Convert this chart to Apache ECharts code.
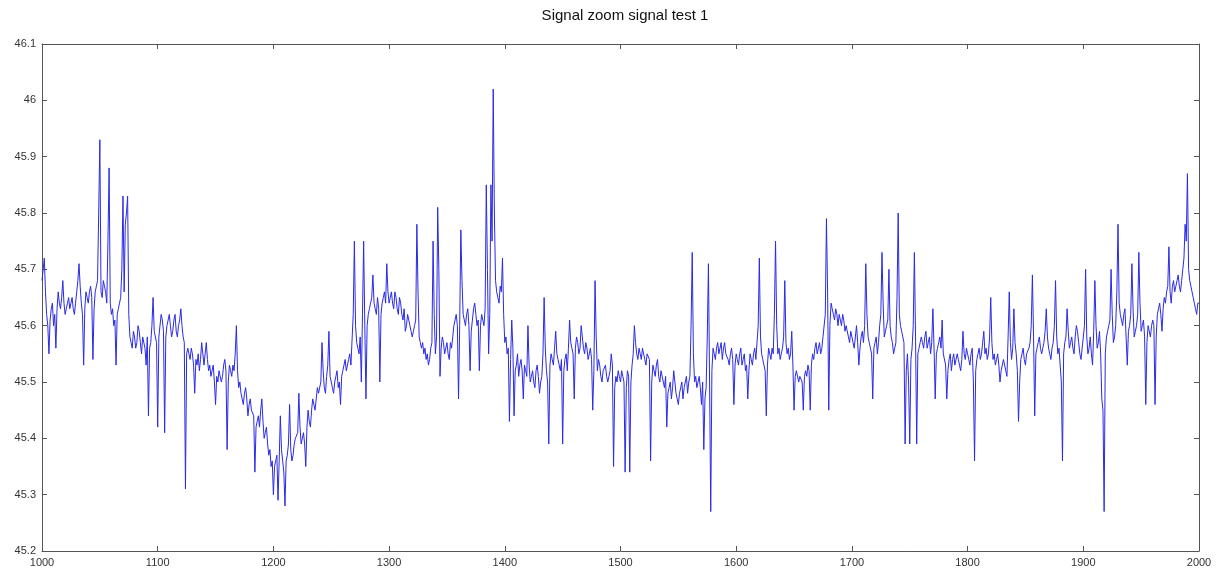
<!DOCTYPE html>
<html>
<head>
<meta charset="utf-8">
<title>Signal zoom signal test 1</title>
<script src="https://cdn.jsdelivr.net/npm/echarts@6/dist/echarts.min.js"></script>
<style>
  html, body { margin: 0; padding: 0; background: #ffffff; }
  #chart { width: 1223px; height: 574px; }
</style>
</head>
<body>
<div id="chart"></div>
<script>
// Chart title and axis setup
const titleText = 'Signal zoom signal test 1';
const xTicks = [1000, 1100, 1200, 1300, 1400, 1500, 1600, 1700, 1800, 1900, 2000];
const yTicks = [45.2, 45.3, 45.4, 45.5, 45.6, 45.7, 45.8, 45.9, 46.0, 46.1];

// Sample numbering: first sample index and spacing between samples
const sampleStart = 1000;
const sampleStep = 1;

// Signal amplitude, one value per sample (1000 .. 2000), 20 samples per row
const signal = [
  45.68,45.70,45.72,45.66,45.62,45.60,45.55,45.61,45.63,45.64,45.60,45.62,45.56,45.63,45.66,45.64,45.63,45.65,45.68,45.64,
  45.62,45.63,45.64,45.65,45.63,45.64,45.65,45.63,45.62,45.64,45.66,45.68,45.71,45.67,45.64,45.62,45.53,45.63,45.66,45.65,
  45.64,45.66,45.67,45.65,45.54,45.63,45.66,45.67,45.68,45.80,45.93,45.66,45.65,45.68,45.67,45.66,45.64,45.75,45.88,45.64,
  45.62,45.63,45.60,45.61,45.53,45.62,45.63,45.64,45.65,45.70,45.83,45.66,45.78,45.80,45.83,45.62,45.58,45.57,45.56,45.59,
  45.58,45.56,45.57,45.60,45.59,45.57,45.55,45.58,45.58,45.56,45.53,45.58,45.44,45.56,45.57,45.60,45.65,45.59,45.58,45.57,
  45.42,45.58,45.60,45.62,45.61,45.59,45.41,45.58,45.60,45.61,45.62,45.60,45.58,45.59,45.61,45.62,45.59,45.58,45.60,45.61,
  45.63,45.60,45.58,45.57,45.31,45.55,45.56,45.55,45.54,45.56,45.55,45.53,45.48,45.54,45.53,45.55,45.52,45.54,45.57,45.55,
  45.53,45.55,45.57,45.54,45.52,45.53,45.51,45.52,45.53,45.50,45.46,45.51,45.50,45.52,45.52,45.50,45.51,45.53,45.54,45.52,
  45.38,45.50,45.53,45.52,45.51,45.53,45.52,45.55,45.60,45.52,45.49,45.50,45.48,45.47,45.46,45.48,45.49,45.47,45.44,45.46,
  45.47,45.45,45.45,45.44,45.34,45.42,45.43,45.44,45.42,45.45,45.47,45.43,45.40,45.41,45.42,45.39,45.37,45.38,45.35,45.36,
  45.30,45.35,45.36,45.37,45.29,45.36,45.44,45.38,45.36,45.34,45.28,45.36,45.37,45.39,45.46,45.38,45.36,45.37,45.39,45.40,
  45.40,45.41,45.48,45.42,45.39,45.40,45.41,45.39,45.35,45.42,45.45,45.43,45.42,45.45,45.47,45.46,45.45,45.47,45.49,45.48,
  45.48,45.50,45.57,45.52,45.49,45.48,45.51,45.53,45.59,45.51,45.50,45.49,45.48,45.50,45.51,45.52,45.49,45.50,45.46,45.51,
  45.52,45.53,45.54,45.52,45.52,45.54,45.55,45.53,45.53,45.62,45.75,45.60,45.57,45.56,45.55,45.58,45.50,45.62,45.75,45.60,
  45.47,45.60,45.62,45.63,45.64,45.65,45.69,45.64,45.63,45.62,45.65,45.63,45.50,45.62,45.64,45.65,45.66,45.64,45.71,45.66,
  45.64,45.65,45.66,45.64,45.63,45.66,45.65,45.63,45.62,45.65,45.64,45.62,45.61,45.63,45.59,45.60,45.62,45.61,45.60,45.59,
  45.58,45.59,45.60,45.61,45.78,45.66,45.58,45.57,45.56,45.57,45.55,45.56,45.54,45.55,45.53,45.54,45.56,45.57,45.75,45.62,
  45.55,45.58,45.81,45.70,45.51,45.56,45.58,45.57,45.55,45.56,45.57,45.55,45.54,45.57,45.56,45.58,45.60,45.61,45.62,45.60,
  45.47,45.60,45.77,45.68,45.62,45.61,45.60,45.62,45.63,45.60,45.52,45.59,45.61,45.63,45.64,45.62,45.60,45.61,45.52,45.60,
  45.62,45.61,45.60,45.63,45.85,45.70,45.55,45.62,45.85,45.75,46.02,45.80,45.68,45.66,45.65,45.64,45.67,45.66,45.72,45.62,
  45.57,45.58,45.55,45.56,45.43,45.54,45.61,45.56,45.44,45.52,45.53,45.55,45.51,45.53,45.54,45.52,45.47,45.53,45.52,45.51,
  45.60,45.53,45.50,45.51,45.52,45.50,45.49,45.52,45.53,45.51,45.48,45.50,45.51,45.55,45.65,45.56,45.52,45.50,45.39,45.53,
  45.55,45.54,45.53,45.56,45.59,45.55,45.54,45.53,45.52,45.54,45.39,45.52,45.54,45.55,45.52,45.56,45.61,45.57,45.56,45.55,
  45.47,45.56,45.58,45.57,45.55,45.56,45.60,45.58,45.56,45.55,45.57,45.56,45.54,45.55,45.56,45.54,45.45,45.52,45.68,45.58,
  45.52,45.54,45.53,45.51,45.50,45.52,45.52,45.53,45.51,45.50,45.50,45.52,45.55,45.53,45.35,45.49,45.51,45.50,45.52,45.51,
  45.50,45.52,45.51,45.50,45.34,45.49,45.52,45.51,45.34,45.50,45.53,45.55,45.60,45.57,45.55,45.54,45.56,45.55,45.54,45.56,
  45.55,45.54,45.53,45.55,45.55,45.54,45.36,45.50,45.53,45.52,45.51,45.53,45.54,45.51,45.50,45.52,45.52,45.50,45.49,45.51,
  45.42,45.48,45.49,45.50,45.47,45.49,45.52,45.50,45.48,45.47,45.46,45.48,45.49,45.50,45.47,45.49,45.50,45.51,45.48,45.50,
  45.51,45.60,45.73,45.55,45.50,45.51,45.49,45.50,45.51,45.49,45.46,45.50,45.38,45.47,45.49,45.58,45.71,45.50,45.27,45.52,
  45.56,45.55,45.54,45.56,45.57,45.55,45.55,45.57,45.54,45.56,45.57,45.55,45.55,45.54,45.53,45.55,45.56,45.54,45.46,45.53,
  45.55,45.54,45.53,45.55,45.56,45.53,45.54,45.55,45.52,45.53,45.47,45.52,45.55,45.54,45.53,45.55,45.56,45.54,45.54,45.60,
  45.72,45.58,45.55,45.54,45.53,45.52,45.44,45.53,45.56,45.55,45.54,45.56,45.55,45.62,45.75,45.60,45.55,45.56,45.54,45.55,
  45.56,45.58,45.68,45.57,45.55,45.56,45.54,45.55,45.59,45.53,45.45,45.51,45.52,45.52,45.50,45.51,45.51,45.50,45.45,45.51,
  45.52,45.51,45.53,45.52,45.45,45.53,45.55,45.54,45.56,45.57,45.55,45.56,45.57,45.55,45.56,45.58,45.58,45.62,45.79,45.66,
  45.45,45.60,45.64,45.63,45.62,45.61,45.63,45.62,45.60,45.62,45.61,45.60,45.62,45.61,45.59,45.60,45.60,45.58,45.57,45.59,
  45.58,45.57,45.56,45.58,45.60,45.57,45.53,45.56,45.58,45.59,45.57,45.60,45.71,45.62,45.58,45.57,45.56,45.55,45.47,45.56,
  45.57,45.58,45.55,45.57,45.60,45.62,45.73,45.64,45.58,45.59,45.60,45.61,45.70,45.60,45.58,45.57,45.55,45.56,45.57,45.65,
  45.80,45.62,45.60,45.59,45.58,45.57,45.39,45.52,45.55,45.50,45.39,45.54,45.56,45.60,45.73,45.58,45.39,45.55,45.56,45.57,
  45.58,45.57,45.56,45.58,45.59,45.56,45.57,45.58,45.55,45.57,45.63,45.56,45.47,45.55,45.56,45.57,45.58,45.56,45.61,45.55,
  45.55,45.53,45.47,45.52,45.54,45.55,45.52,45.54,45.55,45.53,45.53,45.55,45.54,45.53,45.52,45.54,45.59,45.55,45.54,45.56,
  45.55,45.54,45.53,45.55,45.56,45.50,45.36,45.52,45.54,45.55,45.56,45.54,45.55,45.57,45.59,45.55,45.56,45.54,45.55,45.58,
  45.65,45.57,45.54,45.55,45.53,45.54,45.55,45.53,45.50,45.52,45.52,45.54,45.53,45.52,45.51,45.58,45.66,45.57,45.54,45.56,
  45.63,45.57,45.55,45.52,45.43,45.50,45.54,45.55,45.56,45.54,45.53,45.55,45.55,45.56,45.57,45.60,45.69,45.58,45.44,45.55,
  45.56,45.57,45.58,45.56,45.55,45.56,45.57,45.59,45.63,45.58,45.56,45.55,45.54,45.56,45.57,45.60,45.68,45.58,45.55,45.56,
  45.56,45.50,45.36,45.55,45.57,45.58,45.63,45.59,45.56,45.57,45.58,45.56,45.55,45.58,45.60,45.59,45.57,45.55,45.54,45.56,
  45.56,45.60,45.70,45.58,45.55,45.56,45.58,45.55,45.53,45.59,45.68,45.60,45.56,45.57,45.59,45.55,45.47,45.45,45.27,45.55,
  45.58,45.59,45.60,45.61,45.70,45.62,45.57,45.58,45.60,45.66,45.78,45.64,45.62,45.61,45.60,45.62,45.63,45.58,45.53,45.59,
  45.60,45.62,45.71,45.63,45.58,45.59,45.60,45.62,45.73,45.64,45.59,45.60,45.61,45.58,45.46,45.57,45.60,45.59,45.58,45.60,
  45.61,45.60,45.46,45.58,45.62,45.63,45.64,45.62,45.59,45.63,45.65,45.64,45.66,45.67,45.74,45.66,45.64,45.67,45.68,45.66,
  45.67,45.68,45.69,45.67,45.66,45.68,45.70,45.72,45.78,45.75,45.87,45.70,45.68,45.67,45.66,45.65,45.64,45.63,45.62,45.64,
  45.64
];

const points = signal.map((v, i) => [sampleStart + i * sampleStep, v]);

const axisColor = '#555555';
const labelFont = { color: '#333333', fontSize: 11, fontFamily: 'Liberation Sans, Arial, sans-serif' };

function fmtX(v) {
  return String(Math.round(v));
}
function fmtY(v) {
  return String(parseFloat(Number(v).toFixed(1)));
}

const frameAxisX = (pos, showLabel) => ({
  type: 'value',
  position: pos,
  min: xTicks[0],
  max: xTicks[xTicks.length - 1],
  interval: 100,
  axisLine: { show: true, onZero: false, lineStyle: { color: axisColor, width: 1 } },
  axisTick: { show: true, inside: true, length: 5, lineStyle: { color: axisColor } },
  axisLabel: Object.assign({ show: showLabel, margin: 6, formatter: fmtX }, labelFont),
  splitLine: { show: false }
});

const frameAxisY = (pos, showLabel) => ({
  type: 'value',
  position: pos,
  min: yTicks[0],
  max: yTicks[yTicks.length - 1],
  interval: 0.1,
  axisLine: { show: true, onZero: false, lineStyle: { color: axisColor, width: 1 } },
  axisTick: { show: true, inside: true, length: 5, lineStyle: { color: axisColor } },
  axisLabel: Object.assign({ show: showLabel, margin: 6, formatter: fmtY }, labelFont),
  splitLine: { show: false }
});

const chart = echarts.init(document.getElementById('chart'), null, { renderer: 'canvas' });
chart.setOption({
  animation: false,
  backgroundColor: '#ffffff',
  title: {
    text: titleText,
    left: 620,
    textAlign: 'center',
    top: 3,
    textStyle: { color: '#111111', fontSize: 15, fontWeight: 'normal', fontFamily: 'Liberation Sans, Arial, sans-serif' }
  },
  grid: { left: 42, right: 24, top: 44, bottom: 23, containLabel: false },
  xAxis: [frameAxisX('bottom', true), frameAxisX('top', false)],
  yAxis: [frameAxisY('left', true), frameAxisY('right', false)],
  series: [{
    type: 'line',
    data: points,
    xAxisIndex: 0,
    yAxisIndex: 0,
    showSymbol: false,
    symbol: 'none',
    lineStyle: { color: '#2a2ae8', width: 1 },
    clip: true
  }]
});
</script>
</body>
</html>
